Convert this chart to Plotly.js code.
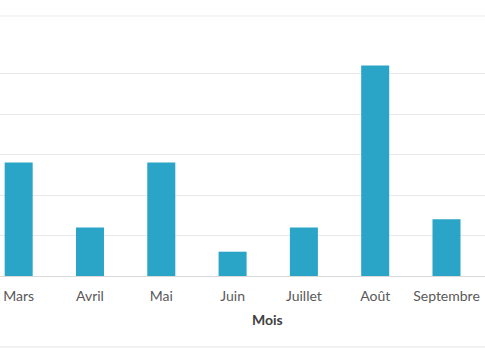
<!DOCTYPE html>
<html><head><meta charset="utf-8">
<script src="https://cdn.plot.ly/plotly-3.0.1.min.js"></script>
<style>html,body{margin:0;padding:0;background:#fff;}#chart{width:485px;height:360px;}</style>
</head><body><div id="chart"></div>
<script>
const months = ["Mars", "Avril", "Mai", "Juin", "Juillet", "Août", "Septembre"];
const values = [28, 12, 28, 6, 12, 52, 14];
const xTitle = "Mois";

const trace = {
  type: "bar", x: months, y: values,
  marker: {color: "#2ba5c7"},
  hoverinfo: "skip"
};
const layout = {
  width: 485, height: 360,
  margin: {l: 0, r: 0, t: 33, b: 84},
  paper_bgcolor: "#fff", plot_bgcolor: "#fff",
  bargap: 0.607,
  showlegend: false,
  font: {family: "Lato, 'Open Sans', sans-serif", color: "#595959"},
  xaxis: {
    range: [-0.262, 6.54], showgrid: false, zeroline: false,
    showline: false, ticks: "", tickfont: {size: 14, color: "#595959"},
    ticklabelstandoff: 10, fixedrange: true
  },
  yaxis: {
    range: [0, 60], dtick: 10, showticklabels: false,
    gridcolor: "#e8e8e8", gridwidth: 1, zeroline: true,
    zerolinecolor: "#d9d9d9", zerolinewidth: 1, fixedrange: true
  },
  shapes: [
    {type: "line", xref: "paper", yref: "paper", x0: 0, x1: 1, y0: 1.07, y1: 1.07, line: {color: "#ececec", width: 1}},
    {type: "line", xref: "paper", yref: "paper", x0: 0, x1: 1, y0: -0.292, y1: -0.292, line: {color: "#e3e3e3", width: 1}}
  ],
  annotations: [
    {text: "<b>" + xTitle + "</b>", xref: "paper", yref: "paper", x: 0.552, y: -0.181,
     showarrow: false, xanchor: "center", yanchor: "middle", font: {size: 14, color: "#404040"}}
  ]
};
Plotly.newPlot("chart", [trace], layout, {displayModeBar: false, staticPlot: true});
</script></body></html>
